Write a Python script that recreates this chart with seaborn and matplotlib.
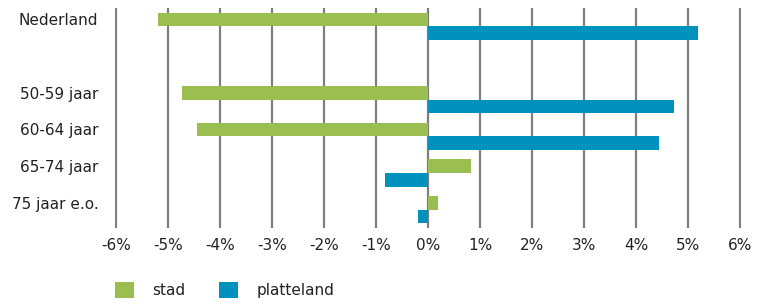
import numpy as np
import pandas as pd
import matplotlib
matplotlib.use("Agg")
import matplotlib.pyplot as plt
import seaborn as sns
from matplotlib.patches import Patch
from matplotlib.ticker import FuncFormatter

# data (percent change)
categories = ["Nederland", "50-59 jaar", "60-64 jaar", "65-74 jaar", "75 jaar e.o."]
stad = [-5.2, -4.73, -4.44, 0.83, 0.19]
platteland = [5.2, 4.73, 4.44, -0.83, -0.19]
series = ["stad", "platteland"]
order = ["Nederland", "", "50-59 jaar", "60-64 jaar", "65-74 jaar", "75 jaar e.o."]
colors = {"stad": "#9BBE50", "platteland": "#0092BC"}

df = pd.DataFrame({
    "groep": categories * 2,
    "reeks": ["stad"] * len(categories) + ["platteland"] * len(categories),
    "waarde": stad + platteland,
})

sns.set_style("white")
plt.rcParams["font.family"] = ["DejaVu Sans"]

fig = plt.figure(figsize=(7.6, 3.06), dpi=100)
ax = fig.add_axes([115 / 760, 1 - 228 / 306, 626 / 760, 220 / 306])

sns.barplot(data=df, y="groep", x="waarde", hue="reeks", order=order,
            hue_order=series, palette=colors, orient="h", width=0.74,
            saturation=1, linewidth=0, ax=ax, legend=False)

ax.set_xlim(-6.02, 6.02)
ax.set_ylim(5.5, -0.5)
ax.set_xticks(np.arange(-6, 7, 1))
ax.xaxis.set_major_formatter(FuncFormatter(lambda v, p: f"{v:.0f}%"))
ax.set_yticks(np.arange(len(order)) - 0.19)
ax.set_yticklabels(order)
ax.set_xlabel("")
ax.set_ylabel("")

ax.grid(axis="x", color="#7f7f7f", linewidth=1.6)
ax.grid(axis="y", visible=False)
ax.set_axisbelow(True)
for s in ax.spines.values():
    s.set_visible(False)
ax.tick_params(axis="both", length=0, labelsize=11, colors="#222222")
ax.tick_params(axis="y", pad=12)
ax.tick_params(axis="x", pad=7)

handles = [Patch(facecolor=colors[s], edgecolor="none") for s in series]
fig.legend(handles, series, loc="lower left", bbox_to_anchor=(101 / 760, -0.02),
           ncol=2, frameon=False, fontsize=11, handlelength=1.25, handleheight=1.25,
           handletextpad=1.2, columnspacing=2.2, labelcolor="#222222")

fig.savefig("out.png", dpi=100)
